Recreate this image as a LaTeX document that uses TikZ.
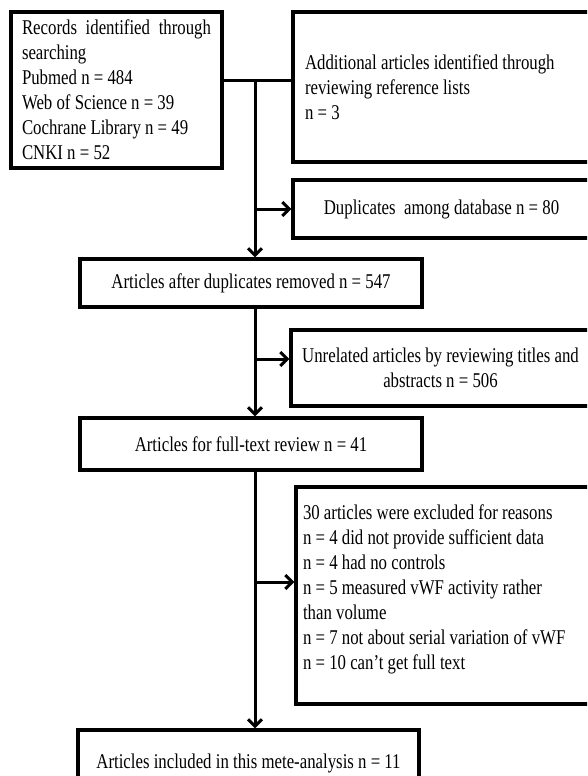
\documentclass[tikz,border=0pt]{standalone}
\usepackage{fontspec}
\setmainfont[FakeStretch=0.8]{Liberation Serif}
\usetikzlibrary{arrows.meta}

\begin{document}
\begin{tikzpicture}
    [x=1pt,y=-1pt,
     box/.style={draw,line width=3.2pt,rectangle,inner sep=0pt,
       font=\fontsize{21}{25}\selectfont},
     link/.style={line width=3pt},
     arr/.style={link,-{Straight Barb[length=7pt,width=14pt]}}]
    \useasboundingbox (0,0) rectangle (587,776);
    \clip (0,0) rectangle (587,776);

    \node[box,minimum width=211pt,minimum height=156pt,text width=189pt,
      align=justify] (rec) at (116.5,90)
      {Records identified through searching\\ Pubmed n = 484\\
       Web of Science n = 39\\ Cochrane Library n = 49\\ CNKI n = 52};
    \node[box,minimum width=297pt,minimum height=150pt,text width=273pt,
      align=justify] (add) at (441.5,87)
      {Additional articles identified through\\ reviewing reference lists\\ n = 3};
    \node[box,minimum width=297pt,minimum height=58pt] (dup) at (441.5,209)
      {Duplicates \ among database n = 80};
    \node[box,minimum width=342pt,minimum height=48pt] (kept) at (251,283)
      {Articles after duplicates removed n = 547};
    \node[box,minimum width=299pt,minimum height=76pt,align=center]
      (unrel) at (440.5,368)
      {Unrelated articles by reviewing titles and\\ abstracts n = 506};
    \node[box,minimum width=342pt,minimum height=52pt] (ft) at (251,444)
      {Articles for full-text review n = 41};
    \node[box,minimum width=294pt,minimum height=217pt,text width=280pt,
      align=justify] (why) at (443,595.5)
      {30 articles were excluded for reasons\\
       n = 4 did not provide sufficient data\\
       n = 4 had no controls\\
       n = 5 measured vWF activity rather\\
       than volume\\
       \mbox{n = 7 not about serial variation of vWF}\\
       n = 10 can’t get full text\\[-8pt] \mbox{}};
    \node[box,minimum width=341pt,minimum height=66pt] (incl) at (248.5,763)
      {Articles included in this mete-analysis n = 11};

    \coordinate (j1) at (255,80);
    \coordinate (b2) at (255,359);
    \coordinate (b3) at (255,582);
    \draw[link] (rec.east |- j1) -- (add.west |- j1);
    \draw[arr] (j1) -- (j1 |- kept.north);
    \draw[arr] (j1 |- dup.west) -- (dup.west);
    \draw[arr] (kept.south -| j1) -- (j1 |- ft.north);
    \draw[arr] (b2) -- (b2 -| unrel.west);
    \draw[arr] (ft.south -| j1) -- (j1 |- incl.north);
    \draw[arr] (b3) -- (b3 -| why.west);
\end{tikzpicture}
\end{document}
